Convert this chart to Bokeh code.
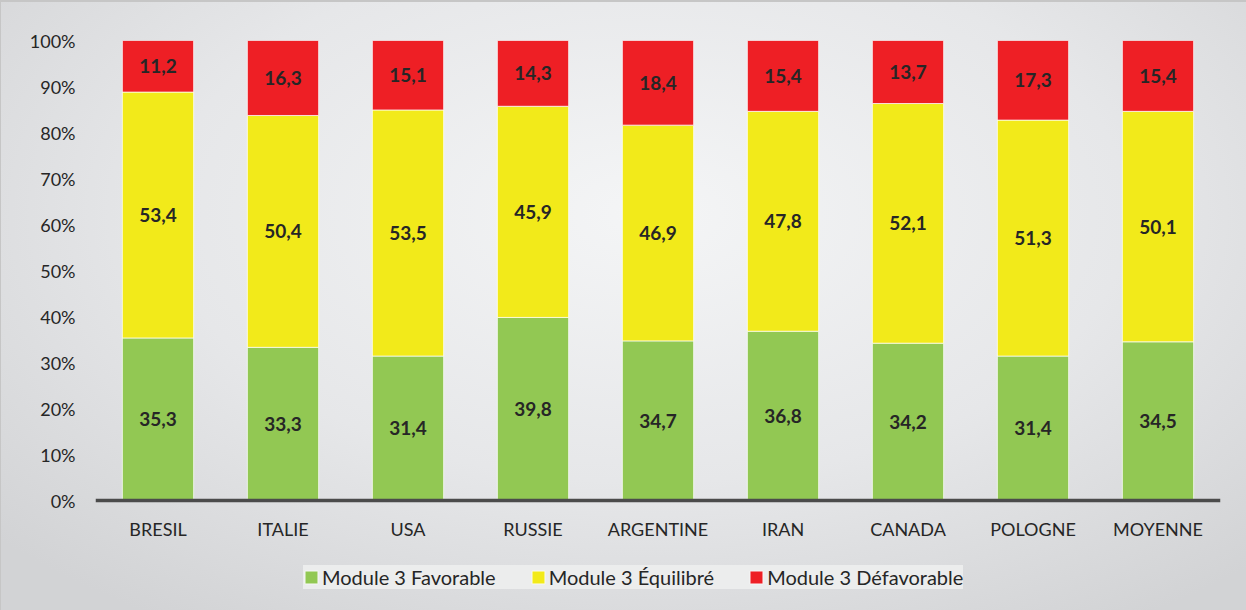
from bokeh.plotting import figure
from bokeh.models import (ColumnDataSource, FactorRange, Legend, LegendItem, Range1d,
                          FixedTicker, CustomJSTickFormatter, Span)
from bokeh.core.properties import value
from bokeh.embed import file_html
from bokeh.resources import INLINE

categories = ["BRESIL", "ITALIE", "USA", "RUSSIE", "ARGENTINE", "IRAN", "CANADA", "POLOGNE", "MOYENNE"]
favorable = [35.3, 33.3, 31.4, 39.8, 34.7, 36.8, 34.2, 31.4, 34.5]
equilibre = [53.4, 50.4, 53.5, 45.9, 46.9, 47.8, 52.1, 51.3, 50.1]
defavorable = [11.2, 16.3, 15.1, 14.3, 18.4, 15.4, 13.7, 17.3, 15.4]
series_names = ["Module 3 Favorable", "Module 3 Équilibré", "Module 3 Défavorable"]
y_ticks = [0, 10, 20, 30, 40, 50, 60, 70, 80, 90, 100]

colors = ["#92c853", "#f2ea1a", "#ee1f25"]
FONT = "Lato"
TXT = "#262626"

W, H = 1246, 610
TOP, LEFT, RIGHT = 40, 95, 26
PLOT_PX = 460                      # pixels for 0..100 %
BELOW_PX = H - TOP - PLOT_PX       # room under the 0 % line (category labels + legend)
y_start = -BELOW_PX / PLOT_PX * 100

# normalise to 100 %
totals = [a + b + c for a, b, c in zip(favorable, equilibre, defavorable)]
fav_p = [a / t * 100 for a, t in zip(favorable, totals)]
equ_p = [b / t * 100 for b, t in zip(equilibre, totals)]
def_p = [c / t * 100 for c, t in zip(defavorable, totals)]

src = ColumnDataSource(dict(cat=categories, fav=fav_p, equ=equ_p, dfv=def_p))

p = figure(x_range=FactorRange(*categories, range_padding=0), y_range=Range1d(y_start, 100),
           width=W, height=H, output_backend="svg", toolbar_location=None,
           min_border_left=LEFT, min_border_right=RIGHT, min_border_top=TOP, min_border_bottom=0)
p.background_fill_alpha = 0
p.border_fill_alpha = 0
p.outline_line_color = None
p.styles = {"background": "radial-gradient(ellipse 70% 80% at 52% 35%, #f4f5f6 0%, #e6e7e9 55%, #d2d3d5 100%)",
            "box-shadow": "inset 9px 10px 0 -8px #c6c6c6"}

renderers = p.vbar_stack(["fav", "equ", "dfv"], x="cat", width=0.57, source=src,
                         color=colors, line_color="white", line_alpha=0.7, line_width=1)

# value labels
for vals_p, raw, bottoms in [
    (fav_p, favorable, [0] * len(categories)),
    (equ_p, equilibre, fav_p),
    (def_p, defavorable, [a + b for a, b in zip(fav_p, equ_p)]),
]:
    ys = [b + v / 2 for b, v in zip(bottoms, vals_p)]
    txt = [f"{r:.1f}".replace(".", ",") for r in raw]
    p.text(x=categories, y=ys, text=txt, text_font=value(FONT), text_font_style="bold",
           text_font_size="19px", text_color=TXT, text_align="center", text_baseline="middle")

# baseline (category axis line)
p.add_layout(Span(location=0, dimension="width", line_color="#4b4b4b", line_width=3.5))

# category labels
label_y = -28 / PLOT_PX * 100
p.text(x=categories, y=[label_y] * len(categories), text=categories, text_font=value(FONT),
       text_font_size="18px", text_color=TXT, text_align="center", text_baseline="middle")

p.xaxis.visible = False
p.xgrid.grid_line_color = None
p.ygrid.grid_line_color = None

p.yaxis.ticker = FixedTicker(ticks=y_ticks)
p.yaxis.formatter = CustomJSTickFormatter(code="return tick.toFixed(0) + '%'")
p.yaxis.axis_line_color = None
p.yaxis.major_tick_line_color = None
p.yaxis.minor_tick_line_color = None
p.yaxis.major_tick_out = 0
p.yaxis.major_tick_in = 0
p.yaxis.major_label_standoff = 20
p.yaxis.major_label_text_font = FONT
p.yaxis.major_label_text_font_size = "18px"
p.yaxis.major_label_text_color = TXT

legend = Legend(items=[LegendItem(label=n, renderers=[r]) for n, r in zip(series_names, renderers)],
                orientation="horizontal", location=(208, 21),
                glyph_width=16, glyph_height=16, label_standoff=3, spacing=34, padding=11,
                label_text_font=FONT, label_text_font_size="20px", label_text_color=TXT,
                background_fill_color="#eceded", background_fill_alpha=1.0, border_line_color=None)
p.add_layout(legend, "center")

open("out.html", "w").write(file_html(p, INLINE))
